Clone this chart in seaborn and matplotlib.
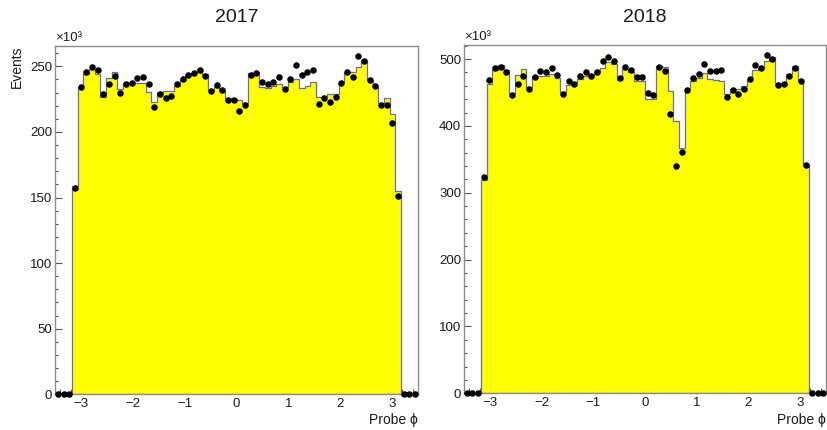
import numpy as np
import pandas as pd
import matplotlib
matplotlib.use("Agg")
import matplotlib.pyplot as plt
from matplotlib.ticker import MultipleLocator
import seaborn as sns

# 64 bins of probe phi between -3.5 and 3.5; event counts in units of 10^3
phi_min, phi_max, n_bins = -3.5, 3.5, 64

years = ["2017", "2018"]

# simulation (filled histogram), 58 non-empty bins
mc_2017 = [159, 234, 244, 248, 244, 227, 241, 246, 233, 237.5,
           237.5, 237.5, 237.5, 230.5, 223, 230.5, 231, 231.5, 235, 239.6,
           243, 244.7, 247.7, 243.9, 232, 234.5, 232, 226, 225, 224,
           222, 244.7, 245.4, 234.5, 233.7, 235.1, 236.3, 234.5, 238.3, 240.1,
           233.7, 235.1, 238.3, 226.4, 227.2, 229.1, 228.7, 238.3, 244.7, 245.4,
           249.7, 254.8, 239.6, 234.5, 222.3, 226.1, 213.3, 155]
data_2017 = [157.5, 234.1, 245.6, 249.2, 247.2, 228.7, 236.7, 242.8, 229.7, 236.9,
             237.4, 240.8, 241.5, 236.7, 219.0, 228.7, 225.6, 227.7, 236.2, 240.3,
             243.1, 245.1, 247.4, 242.8, 231.0, 235.6, 231.8, 224.6, 224.4, 216.2,
             220.3, 243.1, 244.9, 237.7, 236.9, 238.2, 241.8, 232.8, 240.3, 251.0,
             243.1, 245.6, 247.4, 221.3, 226.2, 222.6, 226.7, 237.4, 245.6, 241.8,
             257.7, 254.1, 239.5, 235.1, 220.3, 220.3, 206.7, 151.5]

mc_2018 = [319.3, 462.9, 483.2, 490.6, 484.2, 448.5, 476.7, 485.1, 458.4, 475.2,
           475.2, 474.8, 478.2, 471.8, 450.0, 460.9, 465.8, 470.8, 474.3, 476.7,
           481.7, 486.6, 495.5, 493.1, 468.3, 485.6, 480.2, 467.8, 466.8, 440.6,
           439.6, 489.1, 488.1, 451.5, 408.0, 366.7, 455.0, 466.8, 471.8, 479.2,
           470.3, 468.3, 467.8, 448.0, 455.4, 455.9, 459.4, 469.3, 483.2, 486.6,
           496.5, 503.0, 464.4, 463.4, 478.2, 489.1, 466.8, 341.8]
data_2018 = [323.3, 468.3, 486.6, 488.1, 480.7, 445.5, 462.9, 475.2, 455.9, 473.3,
             481.7, 480.7, 486.6, 476.2, 447.0, 467.3, 463.4, 475.2, 481.2, 474.8,
             480.7, 497.5, 502.5, 496.5, 471.3, 488.1, 484.2, 472.8, 472.8, 449.0,
             445.5, 488.6, 481.7, 418.0, 340.3, 360.8, 453.0, 472.0, 478.2, 493.1,
             481.7, 481.7, 483.2, 443.6, 453.0, 447.0, 455.4, 470.3, 490.6, 486.6,
             505.4, 500.5, 461.9, 462.9, 474.3, 486.6, 467.8, 342.0]

# three empty bins on each side of the filled range
empty_bins = [0, 0, 0]

y_max = [265.5, 521]
y_major = [50, 100]
y_minor = [10, 20]
x_ticks = [-3, -2, -1, 0, 1, 2, 3]

sns.set_style("ticks")
plt.rcParams["font.family"] = ["Liberation Sans", "DejaVu Sans"]

edges = np.linspace(phi_min, phi_max, n_bins + 1)
centers = 0.5 * (edges[:-1] + edges[1:])

fig = plt.figure(figsize=(8.27, 4.30), dpi=100)
W, H = 827, 430
ax1 = fig.add_axes([55 / W, (H - 394.3) / H, 363 / W, 348.3 / H])
ax2 = fig.add_axes([464 / W, (H - 393.3) / H, 362 / W, 348.3 / H])

panels = [(ax1, mc_2017, data_2017), (ax2, mc_2018, data_2018)]
frame_col = "#8c8c8c"
text_col = "#1a1a1a"

for i, (ax, mc, data) in enumerate(panels):
    df = pd.DataFrame({"phi": centers,
                       "mc": empty_bins + mc + empty_bins,
                       "data": empty_bins + data + empty_bins})
    sns.histplot(data=df, x="phi", weights="mc", bins=n_bins,
                 binrange=(phi_min, phi_max), element="step",
                 fill=True, color="#ffff00", edgecolor="#6c6cb4", linewidth=0.9,
                 alpha=1, ax=ax)
    sns.scatterplot(data=df, x="phi", y="data", color="black", s=22,
                    linewidth=0, ax=ax, clip_on=False, zorder=5)

    ax.set_xlim(phi_min, phi_max)
    ax.set_ylim(0, y_max[i])
    ax.set_xlabel("")
    ax.set_ylabel("")
    ax.set_xticks(x_ticks)
    ax.xaxis.set_minor_locator(MultipleLocator(0.2))
    ax.yaxis.set_major_locator(MultipleLocator(y_major[i]))
    ax.yaxis.set_minor_locator(MultipleLocator(y_minor[i]))

    ax.tick_params(axis="x", which="major", direction="in", length=7.2, width=0.8,
                   color="#555555", pad=3, labelsize=9.5, labelcolor=text_col)
    ax.tick_params(axis="x", which="minor", direction="in", length=3.6, width=0.8,
                   color="#555555")
    ax.tick_params(axis="y", which="major", direction="in", length=5, width=0.8,
                   color="#555555", pad=2, labelsize=9.5, labelcolor=text_col)
    ax.tick_params(axis="y", which="minor", direction="in", length=2.5, width=0.8,
                   color="#555555")
    for side in ["top", "right", "bottom", "left"]:
        ax.spines[side].set_visible(True)
        ax.spines[side].set_color(frame_col)
        ax.spines[side].set_linewidth(1.0)

    # titles and axis labels, placed the way ROOT puts them
    pos = ax.get_position()
    fig.text((pos.x0 + pos.x1) / 2, 1 - 18 / H, years[i], ha="center", va="center",
             fontsize=14, color=text_col)
    fig.text(pos.x0, pos.y1 + 2 / H, "\u00d710\u00b3", ha="left", va="bottom",
             fontsize=9.5, color=text_col)
    fig.text(pos.x1, 1 - 420 / H, "Probe \u03d5", ha="right", va="center",
             fontsize=10, color=text_col)

fig.text(17 / W, 1 - 46 / H, "Events", rotation=90, ha="center", va="top",
         fontsize=10, color=text_col)

fig.savefig("out.png", dpi=100)
